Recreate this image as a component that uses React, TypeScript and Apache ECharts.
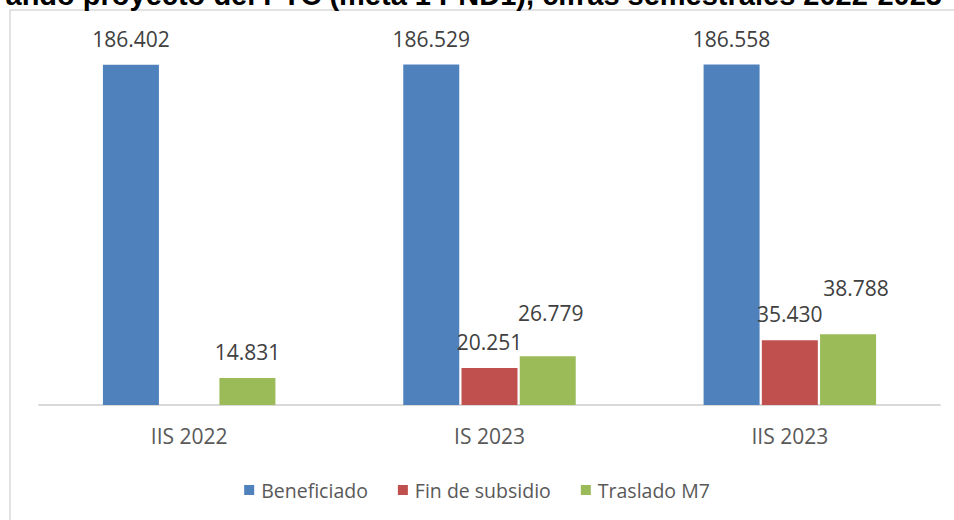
import React, { useEffect, useRef } from "react";
import * as echarts from "echarts";

const categories = ["IIS 2022", "IS 2023", "IIS 2023"];
const seriesNames = ["Beneficiado", "Fin de subsidio", "Traslado M7"];
const beneficiado = [186402, 186529, 186558];
const finSubsidio: (number | null)[] = [null, 20251, 35430];
const trasladoM7 = [14831, 26779, 38788];
const titleText = "ando proyecto del PTC (meta 1 PND1), cifras semestrales 2022-2023";

const colors = ["#4F81BD", "#C0504D", "#9BBB59"];

const fmt = (v: number) => {
  const s = Math.round(v).toString();
  return s.replace(/\B(?=(\d{3})+(?!\d))/g, ".");
};

// label nudges (style only) for overlapping labels, keyed by series then index
const labelNudges: Record<number, Record<number, [number, number]>> = {
  2: { 1: [3, -17], 2: [8, -20] },
};

export default function App() {
  const ref = useRef<HTMLDivElement>(null);
  useEffect(() => {
    if (!ref.current) return;
    const chart = echarts.init(ref.current, undefined, { renderer: "svg" });
    const all = [beneficiado, finSubsidio, trasladoM7];
    const labelFont = "'Open Sans', 'Noto Sans', sans-serif";
    const series = all.map((vals, si) => ({
      name: seriesNames[si],
      type: "bar" as const,
      barWidth: 56,
      barGap: "4%",
      itemStyle: { color: colors[si] },
      label: {
        show: true,
        position: "top" as const,
        distance: 15,
        color: "#404040",
        fontFamily: labelFont,
        fontSize: 21,
        lineHeight: 22,
        formatter: (p: any) => (p.value == null ? "" : fmt(p.value)),
      },
      data: vals.map((v, i) => {
        const nudge = labelNudges[si] && labelNudges[si][i];
        if (v == null) return { value: null };
        return nudge ? { value: v, label: { offset: nudge } } : { value: v };
      }),
    }));

    chart.setOption({
      animation: false,
      backgroundColor: "#ffffff",
      grid: { left: 39, right: 14, top: 40, bottom: 115, containLabel: false },
      xAxis: {
        type: "category",
        data: categories,
        axisLine: { show: true, lineStyle: { color: "#d9d9d9", width: 2 } },
        axisTick: { show: false },
        axisLabel: {
          margin: 20,
          color: "#595959",
          fontFamily: labelFont,
          fontSize: 21,
          lineHeight: 22,
        },
      },
      yAxis: {
        type: "value",
        min: 0,
        max: 200000,
        show: false,
        splitLine: { show: false },
      },
      legend: {
        data: seriesNames,
        top: 473,
        left: "center",
        itemWidth: 10,
        itemHeight: 10,
        itemGap: 30,
        icon: "rect",
        textStyle: {
          color: "#595959",
          fontFamily: labelFont,
          fontSize: 19.5,
          lineHeight: 24,
          padding: [0, 0, 0, 2],
        },
      },
      graphic: [
        {
          type: "rect",
          z: -1,
          shape: { x: 10, y: 10, width: 960, height: 530 },
          style: { fill: "none", stroke: "#d9d9d9", lineWidth: 1.5 },
          silent: true,
        },
        {
          type: "text",
          z: 100,
          x: 942,
          y: 9,
          style: {
            text: titleText,
            fill: "#000000",
            font: "bold 29px 'Liberation Sans', Arial, sans-serif",
            textAlign: "right",
            textVerticalAlign: "bottom",
          },
          silent: true,
        },
      ],
      series,
    });
    return () => chart.dispose();
  }, []);
  return (
    <div
      ref={ref}
      style={{ position: "fixed", left: 0, top: 0, width: 954, height: 520 }}
    />
  );
}
